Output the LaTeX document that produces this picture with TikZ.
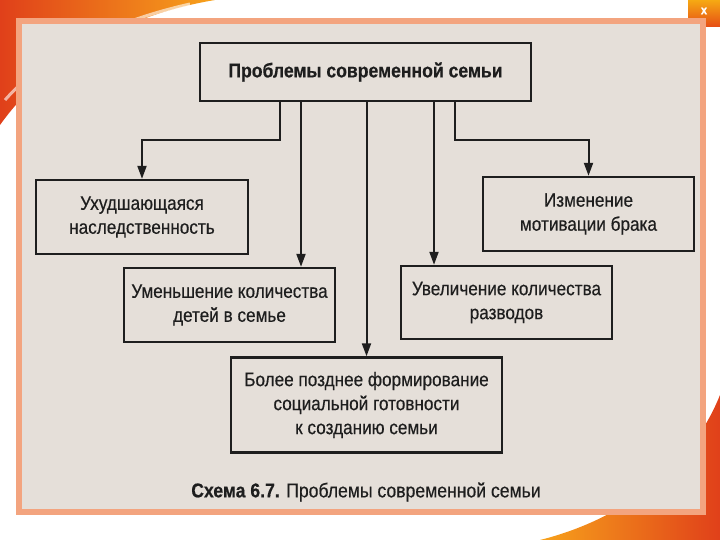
\documentclass[tikz,border=0pt]{standalone}
\usepackage{fontspec}
\setmainfont{Liberation Sans}[FakeStretch=0.88,FakeBold=0.4]
\usetikzlibrary{arrows.meta}
\definecolor{pagebg}{HTML}{E5DFD9}
\definecolor{framec}{HTML}{F3A47F}
\definecolor{ink}{HTML}{1E1E1E}
\definecolor{swA}{HTML}{E0401A}
\definecolor{swB}{HTML}{F7A21B}
\begin{document}
\begin{tikzpicture}[x=1pt,y=-1pt,
  box/.style={draw=ink,line width=2.4pt,align=center,inner sep=0pt,text=ink,
    font=\fontsize{19.5}{24}\selectfont},
  conn/.style={draw=ink,line width=2pt},
  arr/.style={conn,-{Triangle[length=13pt,width=9pt]}}]
\useasboundingbox (0,0) rectangle (720,540);
\fill[white] (0,0) rectangle (720,540);
% slide decorations
\shade[left color=swA,right color=swB] (0,0) -- (215,0) .. controls (130,14) and (50,55) .. (0,125) -- cycle;
\draw[white,opacity=0.6,line width=3pt] (190,4) .. controls (110,22) and (45,55) .. (5,100);
\shade[left color=swB,right color=swA] (720,395) .. controls (690,470) and (620,520) .. (540,540) -- (720,540) -- cycle;
\shade[top color=swB!70!yellow,bottom color=swA!80!orange,rounded corners=5pt] (688,-6) rectangle (726,27);
\node[text=white,font=\fontsize{13}{13}\selectfont\bfseries] (xbtn) at (704,11) {x};
% page
\draw[line width=6pt,draw=framec,fill=pagebg] (19,21.5) rectangle (703,512);
% nodes
\node[box,font=\fontsize{20}{24}\selectfont\bfseries,minimum width=331pt,minimum height=58pt] (top) at (365.5,72) {Проблемы современной семьи};
\node[box,minimum width=212pt,minimum height=74pt] (A) at (142,217) {Ухудшающаяся\\наследственность};
\node[box,minimum width=211pt,minimum height=74pt] (B) at (229.5,305) {Уменьшение количества\\детей в семье};
\node[box,minimum width=211pt,minimum height=74pt] (C) at (588.5,214) {Изменение\\мотивации брака};
\node[box,minimum width=211pt,minimum height=73pt] (D) at (506.5,302.5) {Увеличение количества\\разводов};
\node[box,minimum width=271pt,minimum height=95pt] (E) at (366.5,405) {Более позднее формирование\\социальной готовности\\к созданию семьи};
\node[text=ink,font=\fontsize{20}{22}\selectfont] (cap) at (366,492) {\textbf{Схема 6.7.} Проблемы современной семьи};
% connectors
\coordinate (k1) at (280,140);
\coordinate (k2) at (301,0);
\coordinate (k4) at (434,0);
\coordinate (k5) at (455,140);
\draw[arr] (top.south -| k1) -- (k1) -| (A.north);
\draw[arr] (top.south -| k2) -- (B.north -| k2);
\draw[arr] (top.south -| E.north) -- (E.north);
\draw[arr] (top.south -| k4) -- (D.north -| k4);
\draw[arr] (top.south -| k5) -- (k5) -| (C.north);
\end{tikzpicture}
\end{document}
